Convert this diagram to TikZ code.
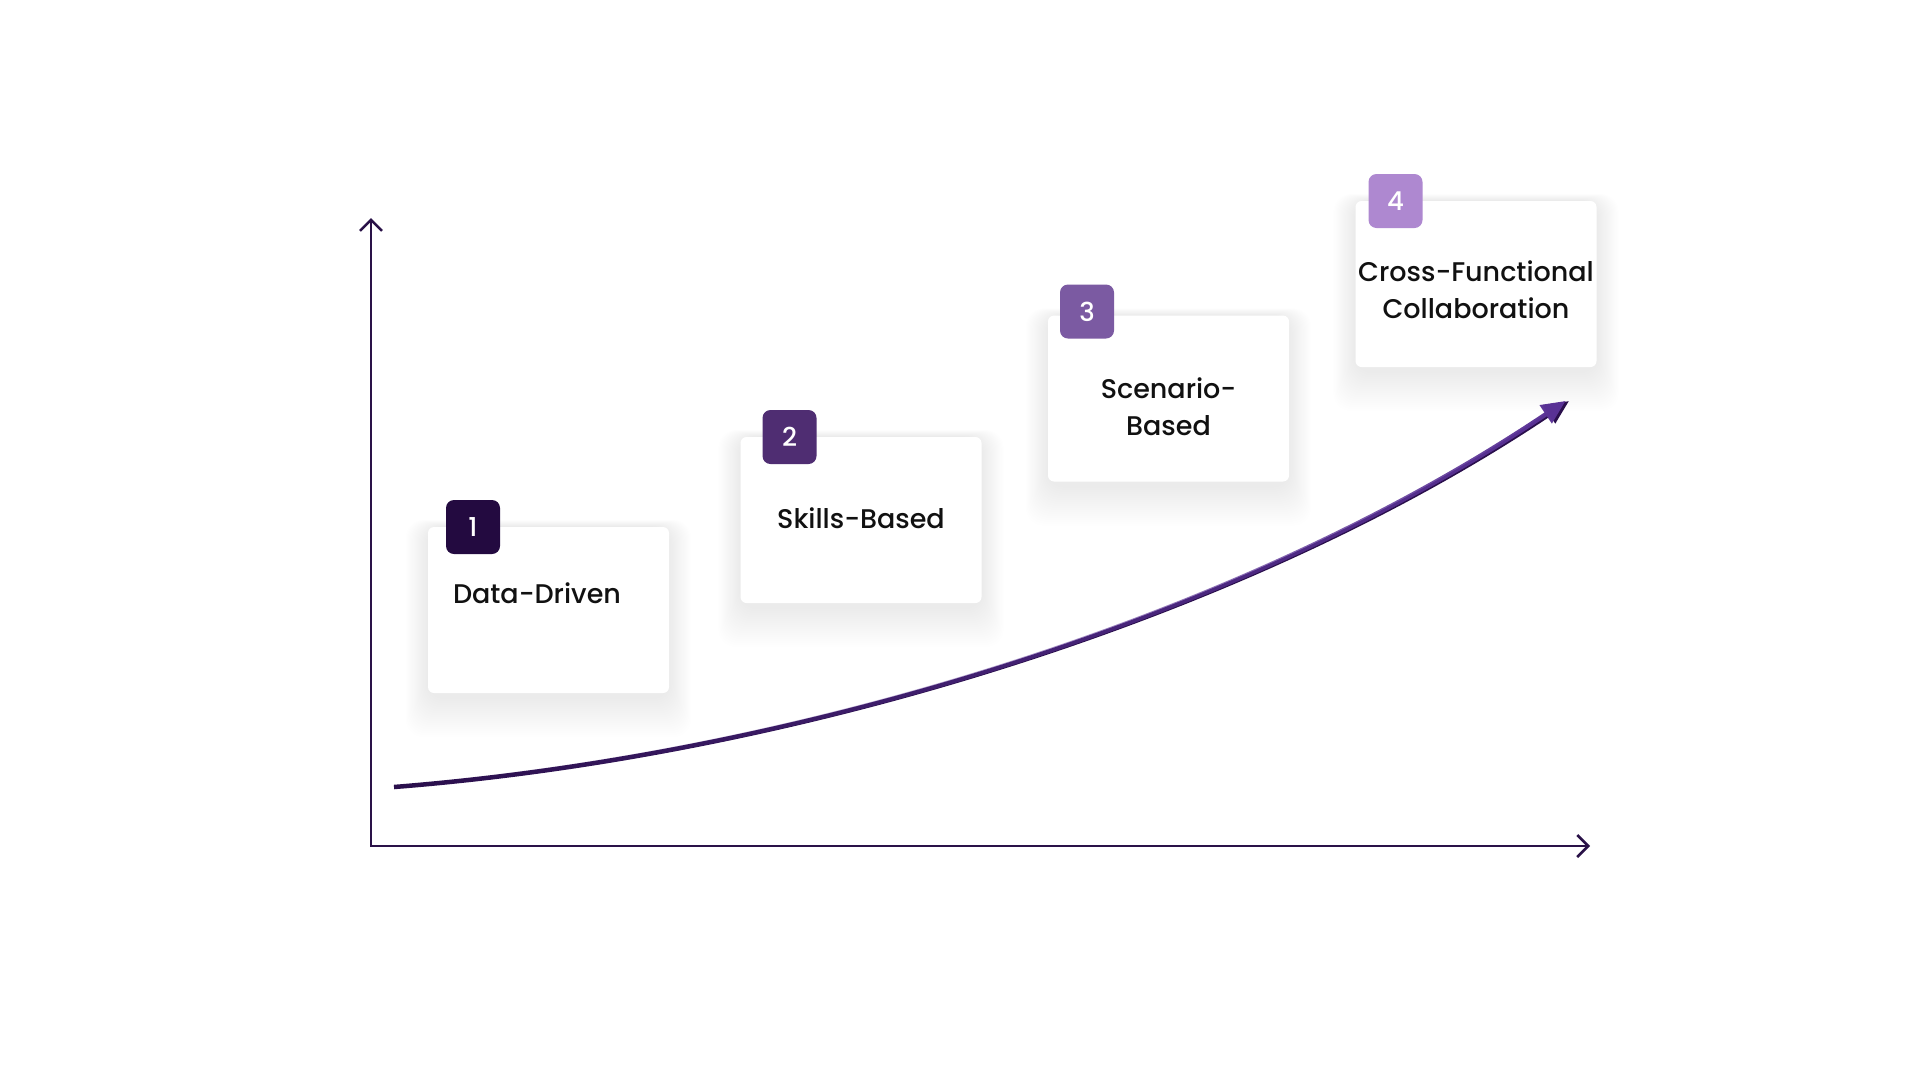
\documentclass[tikz,border=0pt]{standalone}
\usepackage{fontspec}
\setmainfont{Poppins}[UprightFont=* Medium]
\usetikzlibrary{arrows.meta,positioning,fadings,backgrounds}

\definecolor{axisline}{HTML}{2A1248}
\definecolor{curvestart}{HTML}{2A0F4C}
\definecolor{curveend}{HTML}{5A3296}
\definecolor{stepone}{HTML}{230A40}
\definecolor{steptwo}{HTML}{4F2D72}
\definecolor{stepthree}{HTML}{7B5AA2}
\definecolor{stepfour}{HTML}{AE88D0}
\definecolor{cardink}{HTML}{111111}

\tikzfading[name=fade in east, left color=transparent!100, right color=transparent!0]

\tikzset{
	card/.style={fill=white, rounded corners=6pt, minimum width=241pt, minimum height=166pt, inner sep=0pt},
	badge/.style={fill=#1, rounded corners=8pt, minimum size=54pt, inner sep=0pt, text=white, font=\fontsize{26}{30}\selectfont},
	cardtext/.style={font=\fontsize{27}{37}\selectfont, align=center, inner sep=0pt, text=cardink},
	axis/.style={draw=axisline, line width=2.5pt, line join=miter},
	growth/.style={line width=4.5pt},
}

\newcommand{\cardshadow}[1]{%
	\foreach \k in {1,...,20}
		\fill[black, opacity=0.0055, rounded corners=18pt]
			([xshift=-\k*1.1pt, yshift=-4pt-\k*2pt]#1.south west) rectangle ([xshift=\k*1.1pt, yshift=\k*0.35pt]#1.north east);
}

\begin{document}
\begin{tikzpicture}[x=1pt, y=-1pt]
	\useasboundingbox (0,0) rectangle (1920,1080);

	% cards
	\node[card] (box1) at (548.5,610) {};
	\node[card] (box2) at (861,520) {};
	\node[card] (box3) at (1168.5,398.5) {};
	\node[card] (box4) at (1476,284) {};

	\begin{pgfonlayer}{background}
		\fill[white] (0,0) rectangle (1920,1080);
		\cardshadow{box1}
		\cardshadow{box2}
		\cardshadow{box3}
		\cardshadow{box4}
	\end{pgfonlayer}

	% numbered badges
	\node[badge=stepone, anchor=north west] (badge1) at ([xshift=18pt, yshift=27pt]box1.north west) {1};
	\node[badge=steptwo, anchor=north west] (badge2) at ([xshift=22pt, yshift=27pt]box2.north west) {2};
	\node[badge=stepthree, anchor=north west] (badge3) at ([xshift=12pt, yshift=31pt]box3.north west) {3};
	\node[badge=stepfour, anchor=north west] (badge4) at ([xshift=13pt, yshift=27pt]box4.north west) {4};

	% labels
	\node[cardtext, anchor=west] (lbl1) at ([xshift=25pt, yshift=17pt]box1.west) {Data-Driven};
	\node[cardtext] (lbl2) at ([yshift=2pt]box2.center) {Skills-Based};
	\node[cardtext] (lbl3) at ([yshift=-8pt]box3.center) {Scenario-\\Based};
	\node[cardtext] (lbl4) at ([yshift=-6pt]box4.center) {Cross-Functional\\Collaboration};

	% axes
	\coordinate (origin) at (371,846);
	\coordinate (ytip) at (371,218);
	\coordinate (xtip) at (1590,846);
	\draw[axis, {Straight Barb[length=11pt, width=22pt]}-{Straight Barb[length=11pt, width=22pt]}] (xtip) -- (origin) -- (ytip);

	% growth curve
	\coordinate (gstart) at (394,787);
	\coordinate (gbend1) at (800,755);
	\coordinate (gbend2) at (1250,615);
	\coordinate (gend) at (1569,401);
	\draw[growth, curvestart, -{Triangle[length=24pt, width=21pt]}] (gstart) .. controls (gbend1) and (gbend2) .. (gend);
	\draw[growth, curveend, path fading=fade in east, -{Triangle[length=24pt, width=21pt]}] (gstart) .. controls (gbend1) and (gbend2) .. (gend);
\end{tikzpicture}
\end{document}
